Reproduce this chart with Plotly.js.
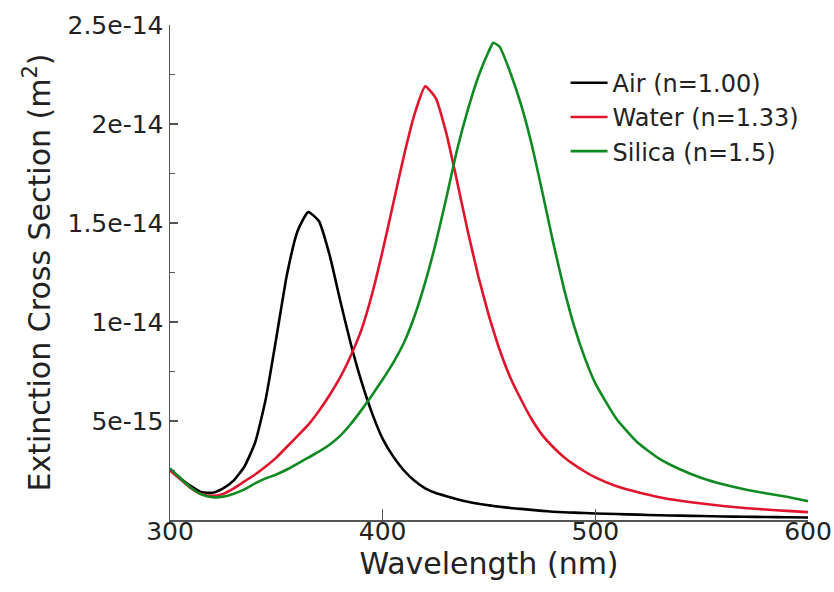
<!DOCTYPE html>
<html>
<head>
<meta charset="utf-8">
<script src="https://cdn.plot.ly/plotly-3.0.1.min.js"></script>
<style>html,body{margin:0;padding:0;background:#fff;}</style>
</head>
<body>
<div id="chart" style="width:834px;height:592px;"></div>
<script>
const wavelength = [300,305,310,315,320,325,330,335,340,345,350,355,360,365,370,375,380,385,390,395,400,405,410,415,420,425,430,435,440,445,450,452,455,460,465,470,475,480,485,490,495,500,510,520,530,540,550,560,570,580,590,600];

const airExt = [2.55e-15,2.1e-15,1.7e-15,1.4e-15,1.38e-15,1.6e-15,2.0e-15,2.7e-15,3.9e-15,6.1e-15,9.2e-15,1.24e-14,1.46e-14,1.555e-14,1.51e-14,1.34e-14,1.11e-14,8.9e-15,7.0e-15,5.4e-15,4.1e-15,3.2e-15,2.5e-15,1.98e-15,1.6e-15,1.36e-15,1.2e-15,1.05e-15,9.2e-16,8.2e-16,7.4e-16,7.1e-16,6.7e-16,6.1e-16,5.6e-16,5.1e-16,4.6e-16,4.2e-16,3.9e-16,3.7e-16,3.5e-16,3.3e-16,3.0e-16,2.7e-16,2.4e-16,2.2e-16,2.0e-16,1.8e-16,1.65e-16,1.5e-16,1.4e-16,1.3e-16];

const waterExt = [2.5e-15,2.05e-15,1.6e-15,1.3e-15,1.22e-15,1.32e-15,1.6e-15,1.95e-15,2.3e-15,2.7e-15,3.15e-15,3.7e-15,4.25e-15,4.8e-15,5.5e-15,6.3e-15,7.2e-15,8.3e-15,9.6e-15,1.14e-14,1.36e-14,1.6e-14,1.84e-14,2.05e-14,2.19e-14,2.13e-14,1.95e-14,1.71e-14,1.46e-14,1.23e-14,1.03e-14,9.6e-15,8.6e-15,7.2e-15,6.1e-15,5.1e-15,4.3e-15,3.7e-15,3.2e-15,2.8e-15,2.45e-15,2.15e-15,1.7e-15,1.4e-15,1.15e-15,9.7e-16,8.3e-16,7.1e-16,6.1e-16,5.3e-16,4.6e-16,4.0e-16];

const silicaExt = [2.6e-15,2.1e-15,1.62e-15,1.28e-15,1.15e-15,1.18e-15,1.33e-15,1.55e-15,1.85e-15,2.1e-15,2.3e-15,2.55e-15,2.85e-15,3.15e-15,3.45e-15,3.8e-15,4.25e-15,4.85e-15,5.55e-15,6.3e-15,7.1e-15,7.95e-15,8.95e-15,1.03e-14,1.2e-14,1.4e-14,1.63e-14,1.87e-14,2.07e-14,2.24e-14,2.37e-14,2.41e-14,2.39e-14,2.26e-14,2.1e-14,1.9e-14,1.66e-14,1.41e-14,1.18e-14,9.8e-15,8.2e-15,6.9e-15,5.1e-15,3.9e-15,3.1e-15,2.55e-15,2.12e-15,1.8e-15,1.55e-15,1.35e-15,1.17e-15,9.5e-16];

const seriesNames = ['Air (n=1.00)', 'Water (n=1.33)', 'Silica (n=1.5)'];
const xTickVals = [300, 400, 500, 600];
const yTickVals = [5e-15, 1e-14, 1.5e-14, 2e-14, 2.5e-14];
const yTickText = ['5e-15', '1e-14', '1.5e-14', '2e-14', '2.5e-14'];

const colors = ['#000000', '#e0142c', '#0f8a22'];
const seriesValues = [airExt, waterExt, silicaExt];

const traces = seriesValues.map((vals, i) => ({
  x: wavelength,
  y: vals,
  type: 'scatter',
  mode: 'lines',
  name: seriesNames[i],
  legendgroup: 'g' + i,
  line: {color: colors[i], width: 2.6, shape: 'spline', smoothing: 0.5}
}));

const axisColor = '#555555';
const layout = {
  width: 834,
  height: 592,
  margin: {l: 170, r: 26, t: 25, b: 72},
  paper_bgcolor: '#ffffff',
  plot_bgcolor: '#ffffff',
  font: {family: 'DejaVu Sans, sans-serif', color: '#222222'},
  showlegend: true,
  legend: {
    x: 0.62, y: 0.928, xanchor: 'left', yanchor: 'top',
    bgcolor: 'rgba(0,0,0,0)', borderwidth: 0,
    font: {size: 24, color: '#222222'},
    itemwidth: 37,
    traceorder: 'grouped', tracegroupgap: 0
  },
  xaxis: {
    range: [300, 600],
    tickmode: 'array', tickvals: xTickVals,
    ticks: 'inside', ticklen: 11, tickwidth: 1.2, tickcolor: axisColor,
    ticklabelstandoff: -12,
    showline: true, linecolor: axisColor, linewidth: 1.5,
    showgrid: false, zeroline: false, mirror: false,
    tickfont: {size: 25, color: '#222222'},
    title: {text: 'Wavelength (nm)', font: {size: 30, color: '#222222'}, standoff: 0},
    automargin: false
  },
  yaxis: {
    range: [0, 2.5e-14],
    tickmode: 'array', tickvals: yTickVals, ticktext: yTickText,
    ticks: 'inside', ticklen: 8, tickwidth: 1.2, tickcolor: axisColor,
    minor: {tickmode: 'linear', tick0: 0, dtick: 2.5e-15, ticks: 'inside', ticklen: 5, tickcolor: axisColor, tickwidth: 1.2, showgrid: false},
    showline: true, linecolor: axisColor, linewidth: 1.5,
    showgrid: false, zeroline: false, mirror: false,
    tickfont: {size: 25, color: '#222222'},
    title: {text: 'Extinction Cross Section (m<sup>2</sup>)', font: {size: 30, color: '#222222'}, standoff: 8},
    automargin: false
  }
};

Plotly.newPlot('chart', traces, layout, {displayModeBar: false, staticPlot: true});
</script>
</body>
</html>
